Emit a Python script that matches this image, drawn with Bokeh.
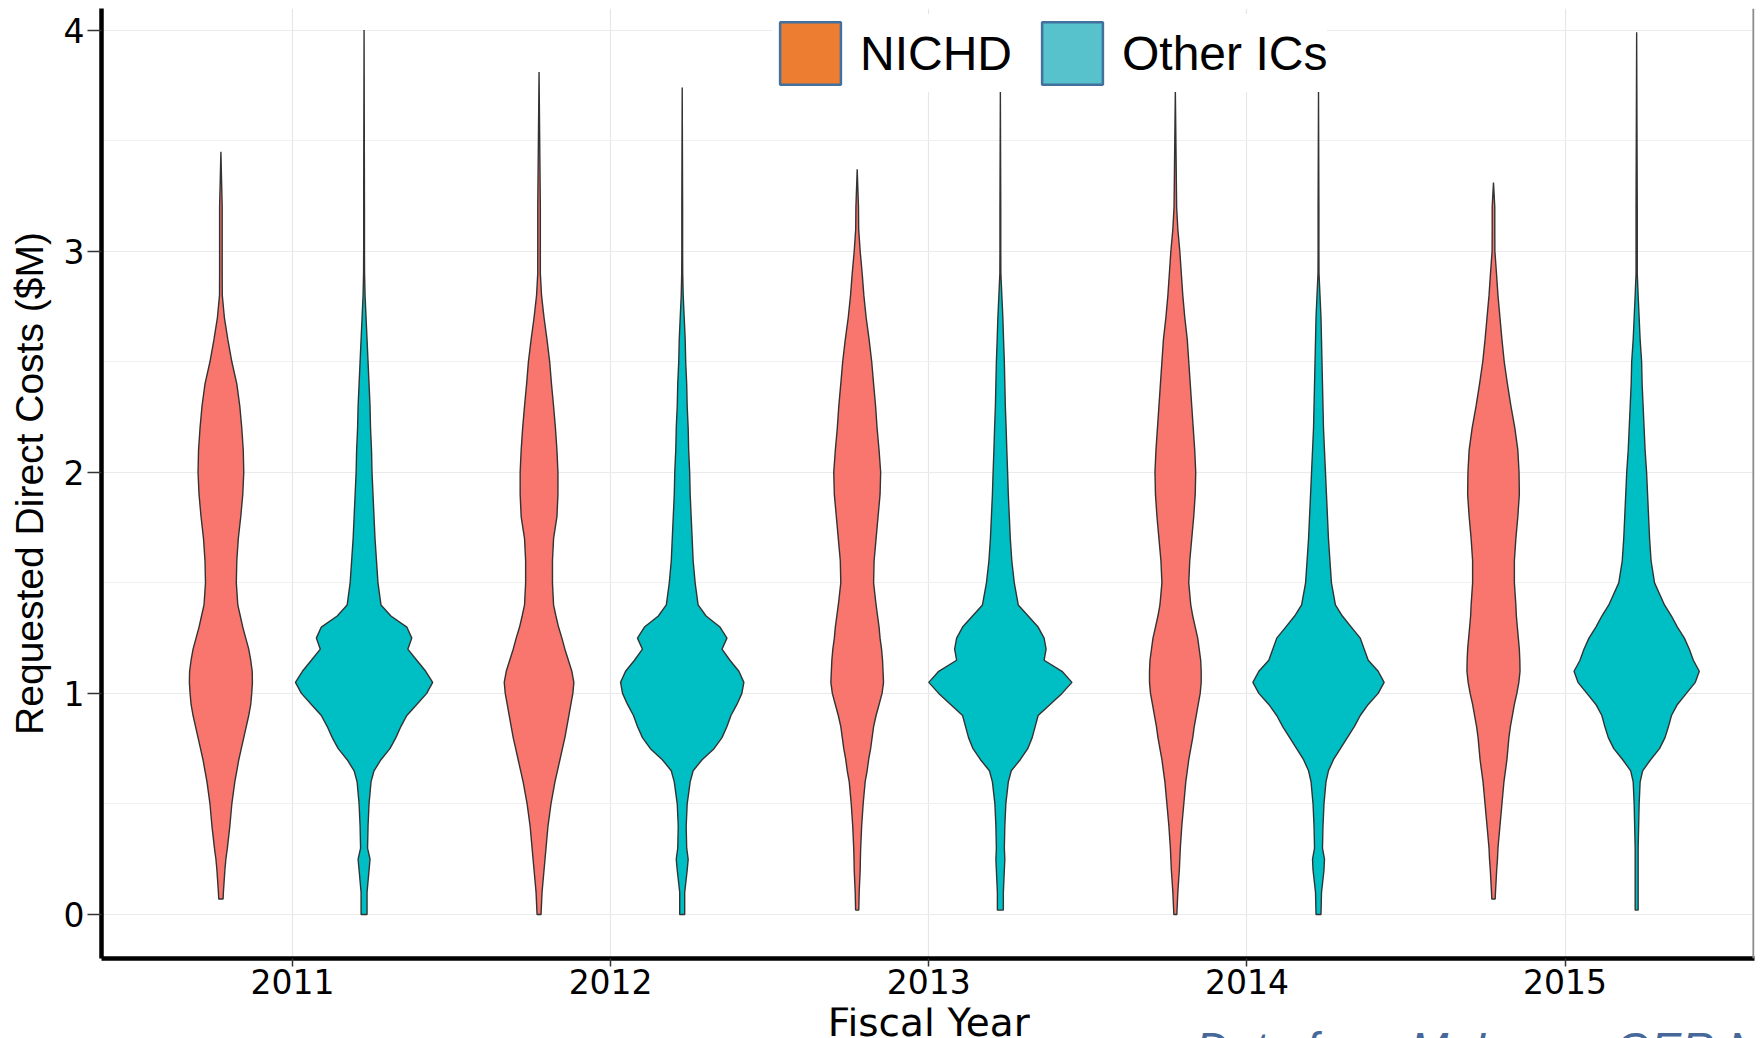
import numpy as np
from bokeh.plotting import figure
from bokeh.layouts import column
from bokeh.models import (Range1d, FixedTicker, Label, Legend, LegendItem, Span,
                          ColumnDataSource)
from bokeh.embed import file_html
from bokeh.resources import INLINE

# ---------------- data ----------------
YEARS = [2011, 2012, 2013, 2014, 2015]
YEAR_LABELS = ["2011", "2012", "2013", "2014", "2015"]
GROUPS = ["NICHD", "Other ICs"]
Y_TICKS = [0, 1, 2, 3, 4]
Y_MINOR = [0.5, 1.5, 2.5, 3.5]

# requested direct costs ($M) at which the violin densities were read
Y_KNOTS = [0.0, 0.1, 0.2, 0.25, 0.3, 0.4, 0.5, 0.6, 0.65, 0.7, 0.75, 0.8, 0.85, 0.9, 0.95,
           1.0, 1.05, 1.1, 1.15, 1.2, 1.25, 1.3, 1.35, 1.4, 1.5, 1.6, 1.7, 1.8, 1.9, 2.0,
           2.1, 2.2, 2.3, 2.4, 2.5, 2.6, 2.7, 2.8, 2.9, 3.0, 3.1, 3.2]

# relative density (violin half-width, arbitrary units, largest = 72)
NICHD_2011 = [1.5, 2.5, 4, 5, 6.5, 9, 11, 14, 16, 18, 20.5, 23, 25.5, 28, 30, 31, 31.7, 31.5,
              30, 28, 25, 22, 19.5, 17, 15.5, 16, 17.5, 20, 22, 23, 22.5, 21, 19, 16, 11, 7,
              3.5, 1.4, 1.3, 1.3, 1.3, 1.3]
OTHER_2011 = [3, 3, 5, 6, 3.5, 4, 5, 7, 10, 17, 26, 32, 37, 43, 53, 63, 69, 62, 53, 44, 48,
              43, 27, 17, 14, 12.5, 11, 10, 9, 8, 7.5, 6.5, 6, 5, 4, 3, 2, 1, 0.5, 0.4, 0.4, 0.4]
NICHD_2012 = [2, 3, 5, 6, 7, 9, 12, 16, 18.5, 21, 23.5, 26, 28, 30, 32, 34, 35, 33, 29.5, 26,
              23, 19.6, 17, 14.6, 13.5, 13.5, 14.6, 18, 19, 19, 18, 16.5, 14.6, 12.5, 10.7, 8,
              5, 2.5, 1.3, 1.3, 1.3, 1.3]
OTHER_2012 = [2.5, 2.5, 5, 6, 4.5, 4, 5, 8, 11, 20, 32, 40, 45, 49, 55, 60, 62, 57, 48, 40, 45,
              38, 24, 16, 13, 11, 10, 9, 8, 7.5, 6.5, 6, 5, 4.5, 3.5, 3, 2, 1, 0.5, 0.4, 0.4, 0.4]
NICHD_2013 = [1.5, 2, 3, 3.2, 3.5, 4.5, 6, 8, 10, 11.5, 13.5, 15, 16.5, 19, 22, 25, 26.5, 26,
              25.5, 24.5, 23, 22, 20.5, 19, 16.5, 17, 19, 21, 23, 23.6, 22, 20, 18.5, 16.5,
              14.6, 12, 9, 6.7, 5, 3, 1.5, 1.3]
OTHER_2013 = [3, 3, 4, 4.5, 4, 4.5, 5.5, 8, 11, 20, 27.5, 32, 35, 38, 50, 62, 72, 62, 44, 46,
              44, 38, 28, 18, 14, 11.5, 10, 9, 8, 7.3, 6.5, 5.8, 5, 4.5, 4, 3.2, 2.5, 1.5, 0.5,
              0.4, 0.4, 0.4]
NICHD_2014 = [1.5, 2.5, 4, 4.5, 5, 6.5, 8.5, 10.5, 12, 13.5, 15.5, 17.5, 19, 21, 23, 25, 26,
              26, 25.5, 24, 22.5, 20, 17.5, 15.5, 13.5, 14.5, 16.5, 18.5, 20, 20.5, 19.5, 18,
              16.5, 15, 13.5, 12, 9.5, 7.5, 6, 4.5, 2.5, 1.3]
OTHER_2014 = [2.5, 3, 5.5, 6, 4, 4.5, 5.5, 7.5, 10, 15, 22, 29, 36, 42, 50, 60, 66, 60, 50, 46,
              42, 33, 24, 17, 13, 11.5, 10, 9, 8, 7, 6, 5, 4.5, 4, 3.5, 3, 2.5, 1.5, 0.5, 0.4,
              0.4, 0.4]
NICHD_2015 = [1, 2, 3.2, 4, 4.5, 6.5, 8.5, 10.5, 12, 13.5, 14.5, 15.5, 17, 19, 21, 23.5, 25.5,
              26.7, 26.5, 26, 25, 24, 23, 22.5, 21, 21, 22.5, 24.5, 26, 25.7, 24.5, 21.5, 17.5,
              14, 10.8, 8.5, 6.5, 4.5, 3, 1.4, 1.3, 1.3]
OTHER_2015 = [1.5, 1.5, 1.5, 1.5, 1.5, 2, 2.5, 3.5, 6, 14, 23, 28.5, 32, 35, 41, 50, 59, 63,
              57, 53, 48, 41, 35, 28, 18, 14.5, 13, 12, 11, 10, 8.5, 7.5, 6.5, 5.5, 5, 3.5,
              2.5, 1.5, 0.6, 0.6, 0.6, 0.6]

NICHD_DENSITY = [NICHD_2011, NICHD_2012, NICHD_2013, NICHD_2014, NICHD_2015]
OTHER_DENSITY = [OTHER_2011, OTHER_2012, OTHER_2013, OTHER_2014, OTHER_2015]
NICHD_MIN = [0.07, 0.0, 0.02, 0.0, 0.07]
NICHD_MAX = [3.45, 3.81, 3.37, 3.73, 3.31]
OTHER_MIN = [0.0, 0.0, 0.02, 0.0, 0.02]
OTHER_MAX = [4.0, 3.74, 3.73, 3.73, 3.99]

X_TITLE = "Fiscal Year"
Y_TITLE = "Requested Direct Costs ($M)"
SOURCE_NOTE = "Data from M. Lauer, OER NIH"

# ---------------- style ----------------
FONT = "Liberation Sans"
WIDE_FONT = "DejaVu Sans"
VIOLIN_FILL = ["#F8766D", "#00BFC4"]
LEGEND_FILL = ["#ED7D31", "#57C1CC"]
LEGEND_BORDER = "#41719C"
DODGE = 0.225
HALF_WIDTH = 0.225


def violin(center, dens, ymin, ymax, dmax):
    k = np.array(Y_KNOTS, dtype=float)
    d = np.array(dens, dtype=float)
    inside = (k > ymin) & (k < ymax)
    ys = np.concatenate([[ymin], k[inside], [ymax]])
    ds = np.concatenate([[np.interp(ymin, k, d)], d[inside], [0.0]])
    hw = ds / dmax * HALF_WIDTH
    xs = np.concatenate([center + hw, (center - hw)[::-1]])
    yy = np.concatenate([ys, ys[::-1]])
    return list(xs), list(yy)


dmax = max(max(max(a) for a in NICHD_DENSITY), max(max(a) for a in OTHER_DENSITY))

p = figure(width=1760, height=1007, output_backend="svg", toolbar_location=None,
           title=None,
           x_range=Range1d(2010.3997, 2015.5954), y_range=Range1d(-0.199, 4.0977),
           min_border_left=101, min_border_right=6, min_border_top=8,
           min_border_bottom=49)
p.outline_line_color = None
p.background_fill_color = "white"
p.border_fill_color = "white"

# grids
yt = FixedTicker(ticks=Y_TICKS, minor_ticks=Y_MINOR)
xt = FixedTicker(ticks=YEARS)
p.yaxis.ticker = yt
p.ygrid.ticker = yt
p.xaxis.ticker = xt
p.xgrid.ticker = xt
p.ygrid.grid_line_color = "#EBEBEB"
p.ygrid.minor_grid_line_color = "#F0F0F0"
p.xgrid.grid_line_color = "#E6E6E6"
p.ygrid.grid_line_width = 1.2
p.xgrid.grid_line_width = 1.2

# violins
for gi, (dens_list, mins, maxs) in enumerate([(NICHD_DENSITY, NICHD_MIN, NICHD_MAX),
                                               (OTHER_DENSITY, OTHER_MIN, OTHER_MAX)]):
    xs_all, ys_all = [], []
    for yi, yr in enumerate(YEARS):
        c = yr + (-DODGE if gi == 0 else DODGE)
        xs, ys = violin(c, dens_list[yi], mins[yi], maxs[yi], dmax)
        xs_all.append(xs)
        ys_all.append(ys)
    src = ColumnDataSource(dict(xs=xs_all, ys=ys_all))
    p.patches("xs", "ys", source=src, fill_color=VIOLIN_FILL[gi], line_color="#333333",
              line_width=1.4)

# axes
for ax in (p.xaxis, p.yaxis):
    ax.axis_line_color = "black"
    ax.axis_line_width = 4.5
    ax.major_tick_line_color = "#333333"
    ax.major_tick_line_width = 1.5
    ax.major_tick_in = 0
    ax.minor_tick_line_color = None
    ax.major_label_text_font = WIDE_FONT
    ax.major_label_text_font_size = "33px"
    ax.major_label_text_color = "black"

p.xaxis.major_tick_out = 8
p.xaxis.major_label_standoff = 2
p.xaxis.major_label_overrides = {y: s for y, s in zip(YEARS, YEAR_LABELS)}
p.yaxis.major_tick_out = 14
p.yaxis.major_label_standoff = 3
p.yaxis.axis_label = Y_TITLE
p.yaxis.axis_label_text_font = FONT
p.yaxis.axis_label_text_font_size = "39px"
p.yaxis.axis_label_text_font_style = "normal"
p.yaxis.axis_label_text_color = "black"
p.yaxis.axis_label_standoff = 10

# right panel border
p.add_layout(Span(location=2015.592, dimension="height", line_color="#8C8C8C",
                  line_width=2))

# legend (NaN rows: the proxy renderers draw nothing in the plot)
leg_src = ColumnDataSource(dict(x=[np.nan], y=[np.nan]))
r1 = p.rect(x="x", y="y", width=0.1, height=0.1, source=leg_src, fill_color=LEGEND_FILL[0],
            line_color=LEGEND_BORDER, line_width=2.5)
r2 = p.rect(x="x", y="y", width=0.1, height=0.1, source=leg_src, fill_color=LEGEND_FILL[1],
            line_color=LEGEND_BORDER, line_width=2.5)
legend = Legend(items=[LegendItem(label=GROUPS[0], renderers=[r1]),
                       LegendItem(label=GROUPS[1], renderers=[r2])],
                orientation="horizontal", location=(671, 866),
                glyph_width=76, glyph_height=78, label_standoff=12, spacing=22,
                padding=6, margin=0, border_line_color=None,
                background_fill_color="white", background_fill_alpha=1.0,
                label_text_font=FONT, label_text_font_size="48px",
                label_text_color="black")
p.add_layout(legend)

# bottom strip: x-axis title and source note (its frame lines up with the plot's frame)
p2 = figure(width=1760, height=31, output_backend="svg", toolbar_location=None,
            title=None, x_axis_type=None, y_axis_type=None,
            x_range=Range1d(2010.3997, 2015.5954), y_range=Range1d(-0.5608, -0.4208),
            min_border_left=0, min_border_right=0, min_border_top=0, min_border_bottom=0)
p2.outline_line_color = None
p2.background_fill_color = "white"
p2.border_fill_color = "white"
p2.add_layout(Label(x=2013, y=-0.4885, text=X_TITLE, text_align="center",
                    text_baseline="alphabetic", text_font=WIDE_FONT, text_font_size="39px",
                    text_color="black"))
p2.add_layout(Label(x=2013.838, y=-0.6061, text=SOURCE_NOTE,
                    text_align="left", text_baseline="alphabetic", text_font=FONT,
                    text_font_size="46px", text_font_style="italic", text_color="#46689A"))

layout = column(p, p2, spacing=0)
open("out.html", "w").write(file_html(layout, INLINE))
